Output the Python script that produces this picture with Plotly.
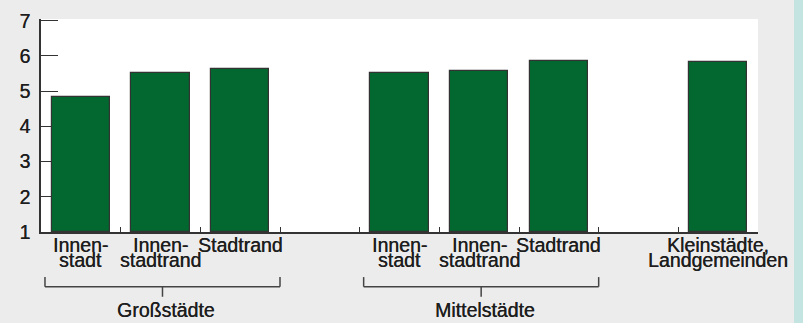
import plotly.graph_objects as go

# ---- data ----
line1 = ["Innen-", "Innen-", "Stadtrand", "Innen-", "Innen-", "Stadtrand", "Kleinstädte,"]
line2 = ["stadt", "stadtrand", "", "stadt", "stadtrand", "", "Landgemeinden"]
values = [4.83, 5.51, 5.63, 5.51, 5.56, 5.86, 5.84]
group_of = [0, 0, 0, 1, 1, 1, 2]
groups = ["Großstädte", "Mittelstädte", ""]
y_ticks = [1, 2, 3, 4, 5, 6, 7]

# slot index: one empty slot between groups
slots = [i + g for i, g in enumerate(group_of)]
n_slots = max(slots) + 1

GREEN = "#03682f"
DARK = "#1e1e1e"
BG = "#ececec"
FONT = "Liberation Sans, Arial, sans-serif"
FS = 19.5
SHADOW = "0.35px 0px 0px #1e1e1e"

L, R, T, B = 41, 45, 10, 91
W, H = 803, 323
plot_h = H - T - B


def px_to_paper(py):
    return (H - B - py) / plot_h


def tfont():
    return dict(size=FS, color=DARK, family=FONT, shadow=SHADOW)


fig = go.Figure()
fig.add_trace(go.Bar(
    x=slots, y=[v - 1 for v in values], base=1,
    width=0.73,
    marker=dict(color=GREEN, line=dict(color="#333333", width=1.2)),
    hoverinfo="skip",
))

annotations = []
for s, a, b in zip(slots, line1, line2):
    annotations.append(dict(x=s, y=0, xref="x", yref="paper", text=a, showarrow=False,
                            yanchor="middle", yshift=-12.5, font=tfont()))
    if b:
        annotations.append(dict(x=s, y=0, xref="x", yref="paper", text=b, showarrow=False,
                                yanchor="middle", yshift=-27.5, font=tfont()))

shapes = []
for gi, name in enumerate(groups):
    if not name:
        continue
    members = [s for s, g in zip(slots, group_of) if g == gi]
    x0 = min(members) - 0.45
    x1 = max(members) + 0.5
    xc = (x0 + x1) / 2
    lw = dict(color="#444444", width=1.5)
    shapes += [
        dict(type="line", xref="x", yref="paper", x0=x0, x1=x1, y0=px_to_paper(289), y1=px_to_paper(289), line=lw),
        dict(type="line", xref="x", yref="paper", x0=x0, x1=x0, y0=px_to_paper(279), y1=px_to_paper(289), line=lw),
        dict(type="line", xref="x", yref="paper", x0=x1, x1=x1, y0=px_to_paper(279), y1=px_to_paper(289), line=lw),
        dict(type="line", xref="x", yref="paper", x0=xc, x1=xc, y0=px_to_paper(289), y1=px_to_paper(299.5), line=lw),
    ]
    annotations.append(dict(x=xc, y=0, xref="x", yref="paper", text=name, showarrow=False,
                            yanchor="middle", yshift=-78, xshift=4, font=tfont()))

# teal strip at right edge
shapes.append(dict(type="rect", xref="paper", yref="paper",
                   x0=(794 - L) / (W - L - R), x1=1.2, y0=-2, y1=2,
                   fillcolor="#c4e4e1", line=dict(width=0), layer="below"))

fig.update_layout(
    width=W, height=H,
    margin=dict(l=L, r=R, t=T, b=B, pad=0),
    paper_bgcolor=BG, plot_bgcolor="white",
    showlegend=False,
    bargap=0,
    font=dict(family=FONT, color=DARK),
    annotations=annotations,
    shapes=shapes,
)
fig.update_xaxes(
    range=[-0.5, n_slots - 0.5], tick0=0.5, dtick=1, ticks="inside", ticklen=5,
    tickcolor="#333333", tickwidth=1.2, showticklabels=False, showgrid=False, zeroline=False,
    showline=True, linecolor="#333333", linewidth=1.5, layer="below traces", fixedrange=True,
)
fig.update_yaxes(
    range=[1, 7.05], tickvals=y_ticks, ticks="inside", ticklen=17,
    tickcolor="#333333", tickwidth=1.2, showgrid=False, zeroline=False,
    showline=True, linecolor="#333333", linewidth=1.5, layer="below traces",
    tickfont=tfont(), ticklabelstandoff=5, fixedrange=True,
)

fig.write_html("out.html", config={"displayModeBar": False},
               post_script="document.body.style.margin='0';document.body.style.overflow='hidden';")
